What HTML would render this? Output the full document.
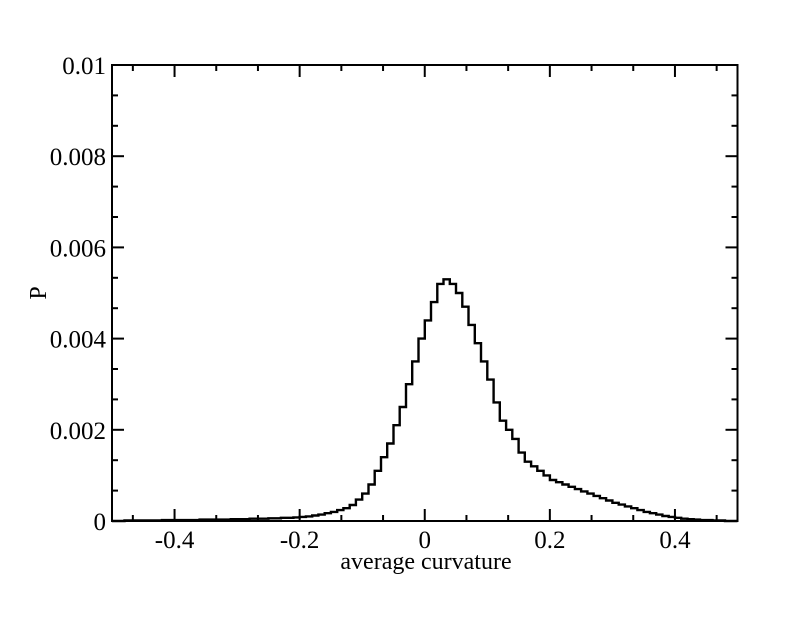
<!DOCTYPE html>
<html><head><meta charset="utf-8"><style>
html,body{margin:0;padding:0;background:#fff;}
svg text{font-family:"Liberation Serif",serif;fill:#000;}
</style></head><body>
<svg id="chart" width="792" height="612" viewBox="0 0 792 612" xmlns="http://www.w3.org/2000/svg">
<rect x="0" y="0" width="792" height="612" fill="#fff"/>
<g id="axes"></g>
<path id="series" fill="none" stroke="#000" stroke-width="2.4" stroke-linejoin="miter"/>
<rect x="112" y="65" width="625.5" height="456" fill="none" stroke="#000" stroke-width="2"/>
<text x="426" y="569" font-size="24" text-anchor="middle">average curvature</text>
<text x="0" y="0" font-size="24" text-anchor="middle" transform="translate(46,293) rotate(-90)">P</text>
</svg>
<script>
const xTicks = [-0.4, -0.2, 0, 0.2, 0.4];
const xTickLabels = ["-0.4", "-0.2", "0", "0.2", "0.4"];
const yTicks = [0, 0.002, 0.004, 0.006, 0.008, 0.01];
const yTickLabels = ["0", "0.002", "0.004", "0.006", "0.008", "0.01"];
const binStart = -0.5;
const binWidth = 0.01;
const pValues = [
0,0,0.00001,0.00001,0.00001,0.00001,0.00001,0.00001,0.00002,0.00002,
0.00002,0.00002,0.00002,0.00002,0.00003,0.00003,0.00003,0.00003,0.00003,0.00004,
0.00004,0.00004,0.00005,0.00005,0.00005,0.00006,0.00006,0.00007,0.00007,0.00008,
0.00009,0.0001,0.00012,0.00014,0.00017,0.0002,0.00024,0.00028,0.00035,0.00047,
0.0006,0.0008,0.0011,0.0014,0.0017,0.0021,0.0025,0.003,0.0035,0.004,
0.0044,0.0048,0.0052,0.0053,0.0052,0.005,0.0047,0.0043,0.0039,0.0035,
0.0031,0.0026,0.0022,0.002,0.0018,0.0015,0.0013,0.0012,0.0011,0.001,
0.0009,0.00085,0.0008,0.00075,0.0007,0.00065,0.0006,0.00055,0.0005,0.00045,
0.0004,0.00036,0.00032,0.00028,0.00024,0.0002,0.00017,0.00014,0.00011,0.00009,
0.00007,0.00005,0.00004,0.00003,0.00002,0.00002,0.00001,0.00001,0,0
];
const X0=112, X1=737.5, Y0=521, Y1=65;
function xs(v){return X0+(v+0.5)/1.0*(X1-X0);}
function ys(v){return Y0-(v/0.01)*(Y0-Y1);}
const NS="http://www.w3.org/2000/svg";
const axes=document.getElementById('axes');
function line(x1,y1,x2,y2,name){
  const l=document.createElementNS(NS,'line');
  l.setAttribute('x1',x1);l.setAttribute('y1',y1);l.setAttribute('x2',x2);l.setAttribute('y2',y2);
  l.setAttribute('stroke','#000');l.setAttribute('stroke-width','2');
  
  
  axes.appendChild(l);
}
function text(x,y,s,anchor,name){
  const t=document.createElementNS(NS,'text');
  t.setAttribute('x',x);t.setAttribute('y',y);t.setAttribute('font-size','25');t.setAttribute('text-anchor',anchor);
  t.textContent=s;
  
  
  axes.appendChild(t);
}
for(let k=-7;k<=7;k++){
  const v=k*0.2/3; if(v<-0.5||v>0.5) continue;
  const major=(k%3===0);
  const len=major?12:6;
  const x=xs(v);
  line(x,Y0,x,Y0-len,'x-tick');
  line(x,Y1,x,Y1+len,'x-tick-top');
}
xTicks.forEach((v,i)=>text(xs(v),548,xTickLabels[i],'middle','x-tick-label'));
for(let k=0;k<=15;k++){
  const v=k*0.002/3;
  const major=(k%3===0);
  const len=major?12:6;
  const y=ys(v);
  line(X0,y,X0+len,y,'y-tick');
  line(X1,y,X1-len,y,'y-tick-right');
}
yTicks.forEach((v,i)=>text(106,ys(v)+9,yTickLabels[i],'end','y-tick-label'));
let d='';
pValues.forEach((p,i)=>{
  const xa=xs(binStart+i*binWidth), xb=xs(binStart+(i+1)*binWidth), y=ys(p);
  d+=(i===0?'M':'L')+xa.toFixed(1)+','+y.toFixed(1)+'L'+xb.toFixed(1)+','+y.toFixed(1);
});
document.getElementById('series').setAttribute('d',d);
</script>
</body></html>
